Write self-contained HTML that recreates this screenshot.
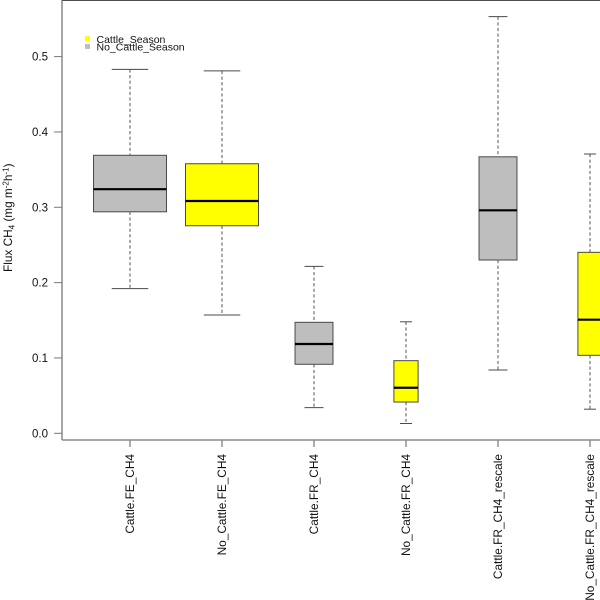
<!DOCTYPE html>
<html lang="en">
<head>
<meta charset="utf-8">
<title>Flux CH4 boxplot</title>
<style>
html,body{margin:0;padding:0;background:#fff;width:600px;height:600px;overflow:hidden}
svg{display:block}
text{font-family:"Liberation Sans",Arial,sans-serif;fill:#111}
</style>
</head>
<body>
<svg id="chart" xmlns="http://www.w3.org/2000/svg" width="600" height="600" viewBox="0 0 600 600">
  <rect x="0" y="0" width="600" height="600" fill="#fff"/>
  <line x1="62" y1="0.3" x2="600" y2="0.3" stroke="#333" stroke-width="1.2"/>
  <g id="boxes"></g>
  <g id="axes"></g>
  <text transform="translate(12,272) rotate(-90)" font-size="11.8">Flux CH<tspan font-size="8" dy="2.5">4</tspan><tspan dy="-2.5"> (mg m</tspan><tspan font-size="8" dy="-3.5">-2</tspan><tspan dy="3.5">h</tspan><tspan font-size="8" dy="-3.5">-1</tspan><tspan dy="3.5">)</tspan></text>
  <g>
    <rect x="85" y="36" width="5" height="5" fill="#ffff00"/>
    <text x="96.5" y="43" font-size="10.5">Cattle_Season</text>
    <rect x="85" y="44" width="5" height="5" fill="#bebebe"/>
    <text x="96.5" y="50.5" font-size="10.5">No_Cattle_Season</text>
  </g>
</svg>
<script>
const categories = ["Cattle.FE_CH4", "No_Cattle.FE_CH4", "Cattle.FR_CH4", "No_Cattle.FR_CH4", "Cattle.FR_CH4_rescale", "No_Cattle.FR_CH4_rescale"];
const seasons = ["No_Cattle_Season", "Cattle_Season", "No_Cattle_Season", "Cattle_Season", "No_Cattle_Season", "Cattle_Season"];
const sampleSizes = [100, 100, 27, 11, 27, 11];
const whiskerLow = [0.192, 0.157, 0.034, 0.013, 0.084, 0.032];
const quartile1 = [0.294, 0.2755, 0.0916, 0.0415, 0.230, 0.1035];
const medians = [0.324, 0.3083, 0.1185, 0.0605, 0.296, 0.1508];
const quartile3 = [0.369, 0.3578, 0.1473, 0.0964, 0.367, 0.2402];
const whiskerHigh = [0.483, 0.481, 0.2216, 0.148, 0.553, 0.3707];
const yTicks = ["0.0", "0.1", "0.2", "0.3", "0.4", "0.5"];

const NS = "http://www.w3.org/2000/svg";
const xScale = i => 130 + i * 92;
const yScale = v => 433.3 - 753.4 * v;
const widthScale = n => 36.5 * Math.sqrt(n / Math.max(...sampleSizes));
const seasonFill = s => s === "Cattle_Season" ? "#ffff00" : "#bebebe";
const axisX = 62, axisY = 440;
const boxStroke = "#4a4a4a", axisStroke = "#777";

function mk(tag, attrs, parent) {
  const el = document.createElementNS(NS, tag);
  for (const k in attrs) el.setAttribute(k, attrs[k]);
  parent.appendChild(el);
  return el;
}

const boxesG = document.getElementById("boxes");
const axesG = document.getElementById("axes");

categories.forEach((cat, i) => {
  const x = xScale(i);
  const boxHalf = widthScale(sampleSizes[i]);
  const capHalf = boxHalf / 2;
  const g = mk("g", {}, boxesG);
  
  

  const upper = mk("line", {x1: x, x2: x, y1: yScale(whiskerHigh[i]), y2: yScale(quartile3[i]), stroke: "#555", "stroke-width": 1, "stroke-dasharray": "3.2 2.4"}, g);
  
  

  const lower = mk("line", {x1: x, x2: x, y1: yScale(quartile1[i]), y2: yScale(whiskerLow[i]), stroke: "#555", "stroke-width": 1, "stroke-dasharray": "3.2 2.4"}, g);
  
  

  const capHi = mk("line", {x1: x - capHalf, x2: x + capHalf, y1: yScale(whiskerHigh[i]), y2: yScale(whiskerHigh[i]), stroke: boxStroke, "stroke-width": 1}, g);
  
  

  const capLo = mk("line", {x1: x - capHalf, x2: x + capHalf, y1: yScale(whiskerLow[i]), y2: yScale(whiskerLow[i]), stroke: boxStroke, "stroke-width": 1}, g);
  
  

  const box = mk("rect", {x: x - boxHalf, y: yScale(quartile3[i]), width: boxHalf * 2, height: yScale(quartile1[i]) - yScale(quartile3[i]), fill: seasonFill(seasons[i]), stroke: boxStroke, "stroke-width": 1}, g);
  
  

  const med = mk("line", {x1: x - boxHalf, x2: x + boxHalf, y1: yScale(medians[i]), y2: yScale(medians[i]), stroke: "#000", "stroke-width": 2.2}, g);
  
  

  const tick = mk("line", {x1: x, x2: x, y1: axisY, y2: axisY + 7, stroke: axisStroke, "stroke-width": 1.2}, axesG);
  
  

  const label = mk("text", {transform: "translate(" + (x + 4) + ",454) rotate(-90)", "text-anchor": "end", "font-size": 11.85}, axesG);
  
  
  label.textContent = cat;
});

yTicks.forEach(t => {
  const y = yScale(parseFloat(t));
  const tick = mk("line", {x1: axisX - 8, x2: axisX, y1: y, y2: y, stroke: axisStroke, "stroke-width": 1}, axesG);
  
  

  const label = mk("text", {x: 48, y: y + 4, "text-anchor": "end", "font-size": 11.5}, axesG);
  
  
  label.textContent = t;
});

const yAxisLine = mk("line", {x1: axisX, x2: axisX, y1: 0, y2: axisY, stroke: axisStroke, "stroke-width": 1.3}, axesG);



const xAxisLine = mk("line", {x1: axisX, x2: 600, y1: axisY, y2: axisY, stroke: axisStroke, "stroke-width": 1.3}, axesG);


</script>
</body>
</html>
